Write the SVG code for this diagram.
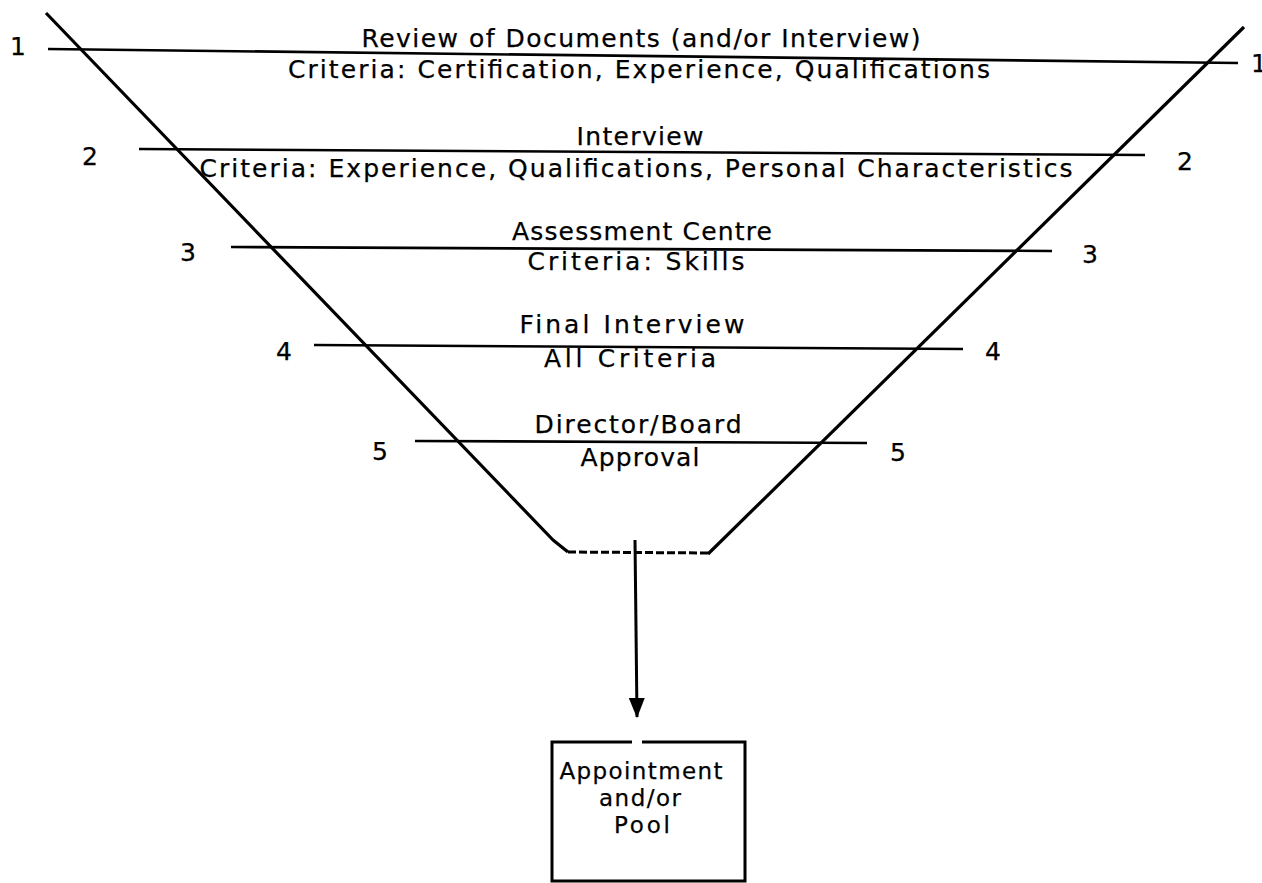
<svg xmlns="http://www.w3.org/2000/svg" width="1262" height="883" viewBox="0 0 1262 883">
<style>
text { font-family: "DejaVu Sans", "Liberation Sans", sans-serif; font-size: 25px; fill: #000; stroke: #000; stroke-width: 0.25; }
.lbl { text-anchor: middle; }
.num { text-anchor: middle; }
.boxt { text-anchor: middle; font-size: 23px; }
.bar { stroke: #000; stroke-width: 2.6; fill: none; stroke-linecap: butt; }
.funnel { stroke: #000; stroke-width: 3.2; fill: none; stroke-linejoin: round; }
.dash { stroke: #000; stroke-width: 3; fill: none; stroke-dasharray: 8 3; }
.box { stroke: #000; stroke-width: 3; fill: none; }
</style>
<defs>
<marker id="ah" markerUnits="userSpaceOnUse" viewBox="0 0 20 16" markerWidth="20" markerHeight="16" refX="19" refY="8" orient="auto">
<path d="M0,0 L20,8 L0,16 z" fill="#000"/>
</marker>
</defs>
<rect width="1262" height="883" fill="#fff"/>
<g id="funnel">
<path class="funnel" d="M46,13 L553,540 L568,552"/>
<path class="funnel" d="M1244,27 L708,554"/>
<path class="dash" d="M568,552 L708,553"/>
</g>
<g id="stage1">
<line class="bar" x1="48" y1="49" x2="1238" y2="63"/>
<text class="num" x="18" y="55">1</text>
<text x="1251" y="72">1</text>
<text class="lbl" x="641" y="47" textLength="559" lengthAdjust="spacing">Review of Documents (and/or Interview)</text>
<text class="lbl" x="639" y="78" textLength="702" lengthAdjust="spacing">Criteria:  Certification, Experience, Qualifications</text>
</g>
<g id="stage2">
<line class="bar" x1="139" y1="149" x2="1145" y2="155"/>
<text class="num" x="90" y="165">2</text>
<text class="num" x="1185" y="170">2</text>
<text class="lbl" x="640" y="145" textLength="127" lengthAdjust="spacing">Interview</text>
<text class="lbl" x="636" y="177" textLength="873" lengthAdjust="spacing">Criteria:  Experience, Qualifications, Personal Characteristics</text>
</g>
<g id="stage3">
<line class="bar" x1="231" y1="247" x2="1052" y2="251"/>
<text class="num" x="188" y="261">3</text>
<text class="num" x="1090" y="263">3</text>
<text class="lbl" x="642" y="240" textLength="260" lengthAdjust="spacing">Assessment Centre</text>
<text class="lbl" x="636" y="270" textLength="217" lengthAdjust="spacing">Criteria:  Skills</text>
</g>
<g id="stage4">
<line class="bar" x1="314" y1="345" x2="963" y2="349"/>
<text class="num" x="284" y="360">4</text>
<text class="num" x="993" y="360">4</text>
<text class="lbl" x="632" y="333" textLength="225" lengthAdjust="spacing">Final Interview</text>
<text class="lbl" x="630" y="367" textLength="172" lengthAdjust="spacing">All Criteria</text>
</g>
<g id="stage5">
<line class="bar" x1="415" y1="441" x2="867" y2="443"/>
<text class="num" x="380" y="460">5</text>
<text class="num" x="898" y="461">5</text>
<text class="lbl" x="638" y="433" textLength="207" lengthAdjust="spacing">Director/Board</text>
<text class="lbl" x="640" y="466" textLength="119" lengthAdjust="spacing">Approval</text>
</g>
<g id="connectors">
<line x1="635" y1="540" x2="637" y2="717" stroke="#000" stroke-width="3" marker-end="url(#ah)"/>
</g>
<g id="outcome">
<path class="box" d="M632,742 H552 V881 H745 V742 H642"/>
<text class="boxt" x="641" y="779" textLength="163" lengthAdjust="spacing">Appointment</text>
<text class="boxt" x="640" y="806" textLength="82" lengthAdjust="spacing">and/or</text>
<text class="boxt" x="642" y="833" textLength="56" lengthAdjust="spacing">Pool</text>
</g>
</svg>
